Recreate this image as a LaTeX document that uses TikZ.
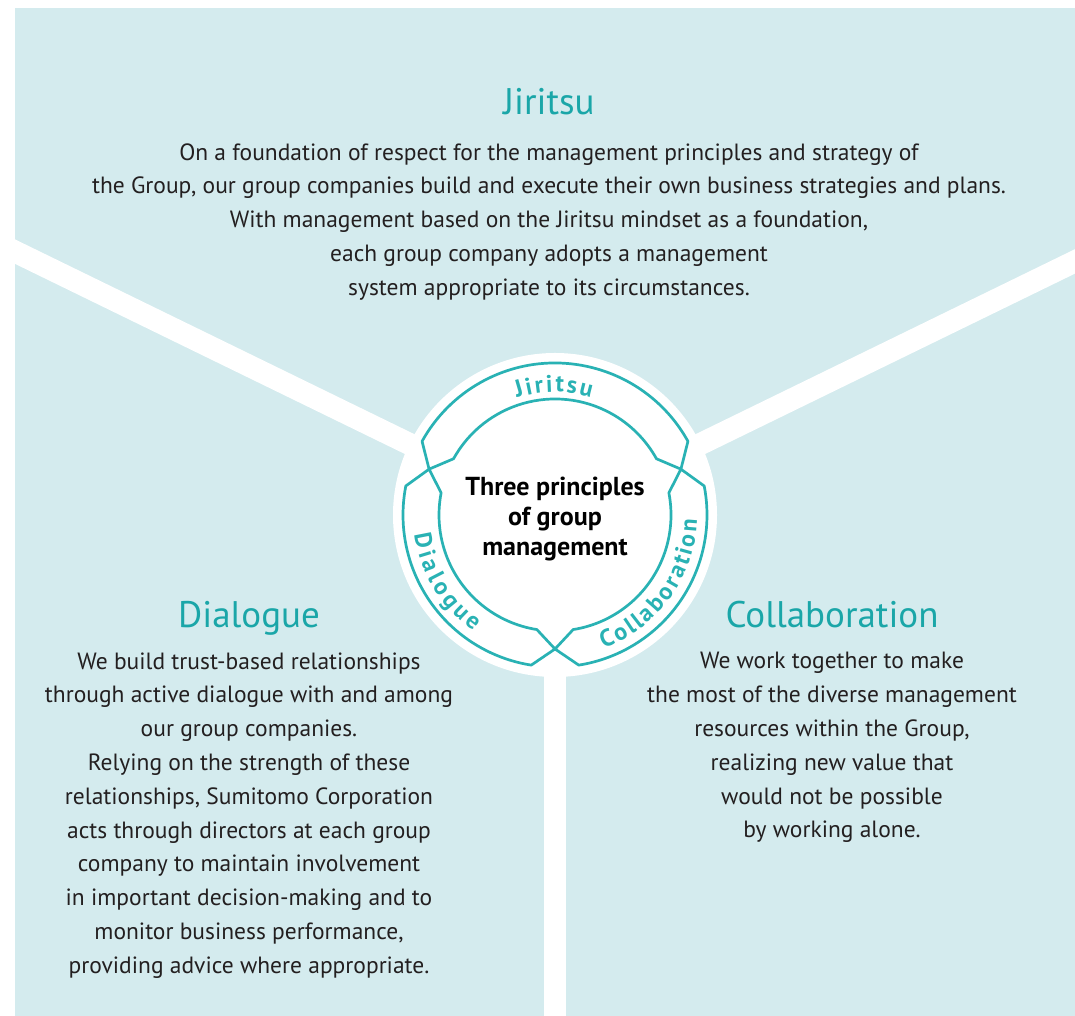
\documentclass[tikz,border=0pt]{standalone}
\usepackage{fontspec}
\setmainfont{PT Sans}
\usetikzlibrary{positioning, decorations.text}

\definecolor{paleteal}{RGB}{212,235,238}
\definecolor{ringteal}{RGB}{41,178,180}
\definecolor{headteal}{RGB}{26,166,168}
\definecolor{bodygray}{RGB}{35,31,32}

\newcommand{\ringfont}{\fontsize{24}{24}\selectfont\bfseries\color{ringteal}}

% one band of the ring, from angle #1 to angle #2 (counterclockwise)
\newcommand{\ringseg}[3]{%
  \draw[seg] ([shift={(#1+9:152)}]c) arc[start angle=#1+9, end angle=#2-9, radius=152]
    -- ([shift={(#2:134)}]c) -- ([shift={(#2-9:116)}]c)
    arc[start angle=#2-9, end angle=#1+9, radius=116]
    -- ([shift={(#1:134)}]c) -- cycle;
  \coordinate (#3) at ([shift={({(#1+#2)/2}:134)}]c);}

\begin{document}
\begin{tikzpicture}[x=1pt, y=1pt]
  \tikzset{
    head/.style={
      text=headteal,
      inner sep=0pt,
      text height=27pt,
      text depth=8pt,
      font=\fontsize{37}{40}\selectfont},
    body/.style={
      text=bodygray,
      inner sep=0pt,
      align=center,
      font=\fontsize{23.5}{33.8}\selectfont},
    corebox/.style={
      text=black,
      inner sep=0pt,
      align=center,
      font=\fontsize{26}{30}\selectfont\bfseries},
    seg/.style={
      draw=ringteal,
      line width=2.7pt,
      line join=round,
      fill=white},
    band/.style={
      draw=white,
      line width=22pt},
    ringlabel/.style={
      decorate,
      decoration={text along path, text align={fit to path}, text={|\ringfont|#1}}}}

  \useasboundingbox (0,0) rectangle (1075,1016);
  \fill[paleteal] (15,0) rectangle (1075,1008);

  % white bands and disc
  \coordinate (c) at (555,501);
  \coordinate (bl) at ([shift={(154:700)}]c);
  \coordinate (br) at ([shift={(26:700)}]c);
  \coordinate (bb) at ([shift={(270:700)}]c);
  \draw[band] (c) -- (bl);
  \draw[band] (c) -- (br);
  \draw[band] (c) -- (bb);
  \fill[white] (c) circle (162);

  % the ring
  \ringseg{20}{160}{jirseg}
  \ringseg{160}{270}{dlgseg}
  \ringseg{270}{380}{colseg}

  \path[ringlabel=Jiritsu] ([shift={(108:123)}]c) arc[start angle=108, end angle=73, radius=123];
  \path[ringlabel=Dialogue] ([shift={(188:142)}]c) arc[start angle=188, end angle=235, radius=142];
  \path[ringlabel=Collaboration] ([shift={(290:142)}]c) arc[start angle=290, end angle=358, radius=142];

  \node[corebox] (core) at (555,497) {Three principles\\of group\\management};

  % headings and texts
  \node[head, anchor=base] (jirhead) at (549,901) {Jiritsu};
  \node[body, below=20pt of jirhead] (jirtext) {On a foundation of respect for the management principles and strategy of\\
    the Group, our group companies build and execute their own business strategies and plans.\\
    With management based on the Jiritsu mindset as a foundation,\\
    each group company adopts a management\\
    system appropriate to its circumstances.};

  \node[head, anchor=base] (dlghead) at (249,388) {Dialogue};
  \node[body, below=16pt of dlghead] (dlgtext) {We build trust-based relationships\\
    through active dialogue with and among\\
    our group companies.\\
    Relying on the strength of these\\
    relationships, Sumitomo Corporation\\
    acts through directors at each group\\
    company to maintain involvement\\
    in important decision-making and to\\
    monitor business performance,\\
    providing advice where appropriate.};

  \node[head, anchor=base] (colhead) at (832,388) {Collaboration};
  \node[body, below=16pt of colhead] (coltext) {We work together to make\\
    the most of the diverse management\\
    resources within the Group,\\
    realizing new value that\\
    would not be possible\\
    by working alone.};

\end{tikzpicture}
\end{document}
